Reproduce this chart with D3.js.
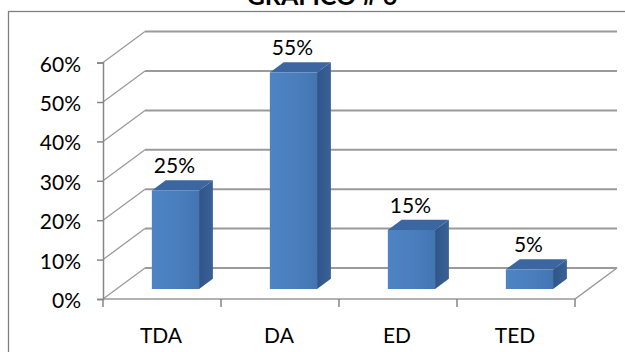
<!DOCTYPE html>
<html>
<head>
<meta charset="utf-8">
<script src="https://cdn.jsdelivr.net/npm/d3@7"></script>
<style>
  html, body { margin: 0; padding: 0; background: #fff; }
  svg { display: block; }
</style>
</head>
<body>
<svg id="chart" width="625" height="352"></svg>
<script>
// Chart data
const title = "GRÁFICO # 6";
const categories = ["TDA", "DA", "ED", "TED"];
const values = [0.25, 0.55, 0.15, 0.05];
const tickValues = [0, 0.1, 0.2, 0.3, 0.4, 0.5, 0.6];

const svg = d3.select("#chart");
const FONT = "Lato, 'Open Sans', sans-serif";

// Front plane of the 3D box
const x0 = 103, x1 = 575, yBase = 299, yTop = 62.6;
// Depth offset of the back wall
const DX = 42, DY = -31;
// Bar depth range (fraction of box depth)
const dFront = 0.32, dBack = 0.65;

const x = d3.scaleBand().domain(categories).range([x0, x1]).paddingInner(0).paddingOuter(0);
const y = d3.scaleLinear().domain([0, 0.6]).range([yBase, yTop]);
const fmt = d3.format(".0%");

const P = (px, py, d) => [px + DX * d, py + DY * d];

// Outer frame
svg.append("rect")
  .attr("x", 8.5).attr("y", 11.5).attr("width", 640).attr("height", 360)
  .attr("fill", "none").attr("stroke", "#808080").attr("stroke-width", 1.3);

// Title
svg.append("text")
  .attr("x", 322).attr("y", 5)
  .attr("text-anchor", "middle")
  .attr("font-family", FONT)
  .attr("font-weight", "bold").attr("font-size", 25)
  .text(title);

const grid = svg.append("g");
const gridColor = "#9a9a9a";

// Back wall gridlines
grid.selectAll("line.back").data(tickValues).join("line")
  .attr("class", "back")
  .attr("x1", x0 + DX).attr("x2", x1 + DX)
  .attr("y1", d => y(d) + DY).attr("y2", d => y(d) + DY)
  .attr("stroke", gridColor).attr("stroke-width", 2);

// Side wall diagonals
grid.selectAll("line.side").data(tickValues).join("line")
  .attr("class", "side")
  .attr("x1", x0).attr("y1", d => y(d))
  .attr("x2", x0 + DX).attr("y2", d => y(d) + DY)
  .attr("stroke", gridColor).attr("stroke-width", 1.3);

// Floor outline (front edge and right edge)
grid.append("path")
  .attr("d", d3.line()([[x0, yBase], [x1, yBase], [x1 + DX, yBase + DY]]))
  .attr("fill", "none").attr("stroke", gridColor).attr("stroke-width", 1.5);

// Value axis on the front left edge
const yAxis = svg.append("g")
  .attr("transform", `translate(${x0},0)`)
  .call(d3.axisLeft(y).tickValues(tickValues).tickFormat(fmt).tickSize(6).tickPadding(16));
yAxis.select(".domain").attr("stroke", "#868686").attr("stroke-width", 1.5);
yAxis.selectAll(".tick line").attr("stroke", "#868686").attr("stroke-width", 1.5);
yAxis.selectAll(".tick text")
  .attr("font-family", FONT)
  .attr("font-size", 21).attr("fill", "#000").attr("dy", "0.4em");

// Category axis ticks along the front floor edge
const catBounds = categories.map(c => x(c)).concat([x1]);
svg.append("g").selectAll("line").data(catBounds).join("line")
  .attr("x1", d => d).attr("x2", d => d)
  .attr("y1", yBase).attr("y2", yBase + 8)
  .attr("stroke", "#868686").attr("stroke-width", 1.5);

svg.append("g").selectAll("text").data(categories).join("text")
  .attr("x", d => x(d) + x.bandwidth() / 2 - 1)
  .attr("y", 343)
  .attr("text-anchor", "middle")
  .attr("font-family", FONT)
  .attr("font-size", 21).attr("fill", "#000")
  .text(d => d);

// Gradients for bar faces
const defs = svg.append("defs");
const gFront = defs.append("linearGradient").attr("id", "gFront")
  .attr("x1", "0%").attr("x2", "100%").attr("y1", "0%").attr("y2", "0%");
gFront.append("stop").attr("offset", "0%").attr("stop-color", "#4e84c4");
gFront.append("stop").attr("offset", "55%").attr("stop-color", "#4a7ebd");
gFront.append("stop").attr("offset", "100%").attr("stop-color", "#4275b2");
const gSide = defs.append("linearGradient").attr("id", "gSide")
  .attr("x1", "0%").attr("x2", "100%").attr("y1", "0%").attr("y2", "0%");
gSide.append("stop").attr("offset", "0%").attr("stop-color", "#2f5589");
gSide.append("stop").attr("offset", "100%").attr("stop-color", "#3a6197");

// 3D bars
const barW = x.bandwidth() * 0.4;
const bars = svg.append("g").selectAll("g").data(categories.map((c, i) => ({ c, v: values[i] }))).join("g");

bars.each(function (d) {
  const g = d3.select(this);
  const cx = x(d.c) + x.bandwidth() / 2;
  const L = cx - barW / 2, R = cx + barW / 2;
  const yt = y(d.v), yb = y(0);
  const line = d3.line();
  // front face
  const f = [P(L, yt, dFront), P(R, yt, dFront), P(R, yb, dFront), P(L, yb, dFront)];
  // side face
  const s = [P(R, yt, dFront), P(R, yt, dBack), P(R, yb, dBack), P(R, yb, dFront)];
  // top face
  const t = [P(L, yt, dFront), P(L, yt, dBack), P(R, yt, dBack), P(R, yt, dFront)];
  g.append("path").attr("d", line(s) + "Z").attr("fill", "url(#gSide)");
  g.append("path").attr("d", line(t) + "Z").attr("fill", "#3c66a1");
  g.append("path").attr("d", line(f) + "Z").attr("fill", "url(#gFront)");

  // value label
  const lp = P(cx, yt, dBack);
  g.append("text")
    .attr("x", P(cx, yt, dFront)[0] - 1)
    .attr("y", lp[1] - 7)
    .attr("text-anchor", "middle")
    .attr("font-family", FONT)
    .attr("font-size", 21).attr("fill", "#000")
    .text(fmt(d.v));
});
</script>
</body>
</html>
